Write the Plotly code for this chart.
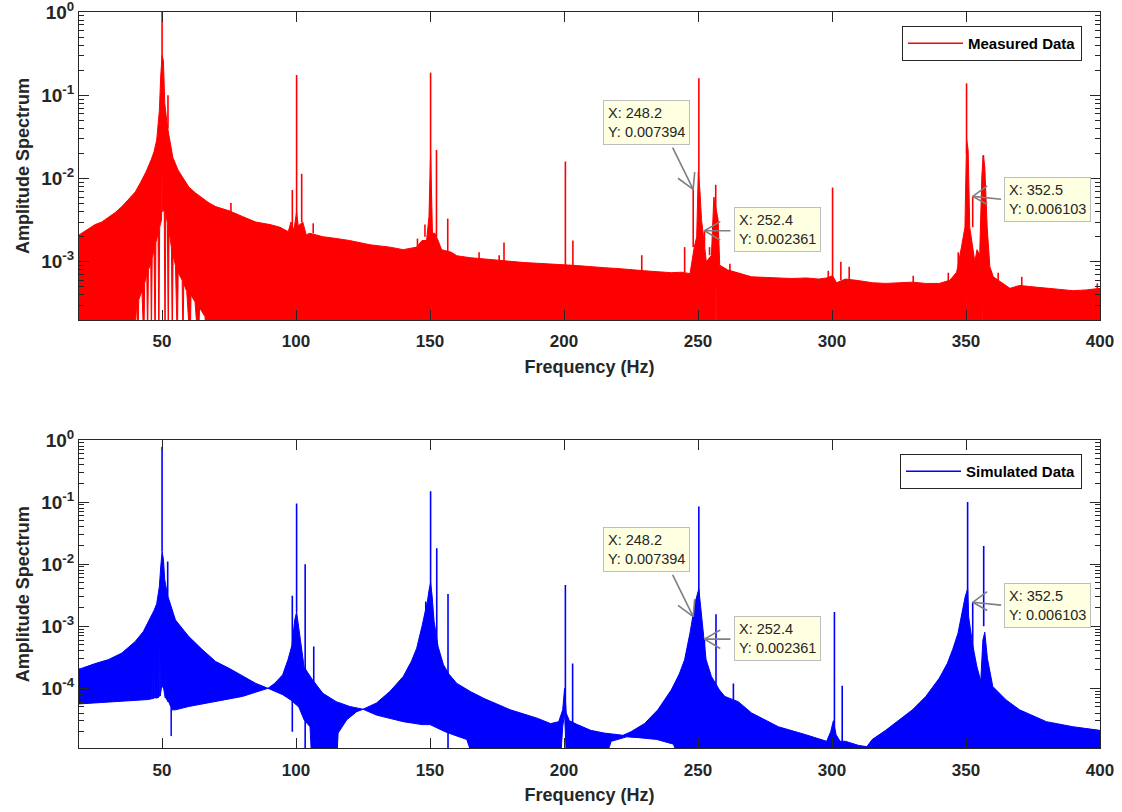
import numpy as np
import plotly.graph_objects as go

# ---------------- data ----------------
# Measured spectrum: upper edge of the dense trace (Hz, amplitude)
meas_env_f = [19, 20, 22.5, 25, 27.5, 30, 32.5, 35, 37.5, 40, 42, 44, 46, 47, 48, 49, 49.5, 50, 50.5, 51,
              52, 53, 54, 56, 58, 60, 62.5, 65, 67.5, 70, 75, 80, 85, 90.3, 94, 97.1, 98.1, 99.2, 100.2,
              100.8, 102.5, 103.8, 105, 107.6, 110, 115.2, 120, 127.6, 135, 140, 145, 147, 148.7, 149.6,
              150.2, 150.9, 151.8, 153, 154.3, 158, 160, 165, 170, 175, 180, 185, 190, 195, 200, 205, 210,
              215, 220, 225, 230, 235, 240, 244, 247, 248.6, 249.5, 250.1, 250.7, 251.3, 253.1, 255,
              255.9, 257.5, 258.1, 261, 264.3, 270, 275, 280, 285, 290.5, 295, 298, 300.2, 301.7, 305,
              309, 315.2, 320, 325, 330, 335, 340, 344, 346.5, 348.3, 349.6, 350.2, 350.8, 351.4,
              353.3, 354.1, 355.1, 355.9, 356.4, 357, 357.9, 358.9, 360.2, 366.4, 370, 375, 380, 385,
              390, 395, 400]
meas_env_a = [2.1e-3, 2.2e-3, 2.5e-3, 2.8e-3, 3.0e-3, 3.4e-3, 3.9e-3, 4.6e-3, 5.6e-3, 6.9e-3, 9.0e-3,
              1.2e-2, 1.7e-2, 2.1e-2, 2.9e-2, 6.6e-2, 0.17, 0.3, 0.26, 0.08, 0.042, 0.027, 0.018, 0.0126,
              0.010, 0.0079, 0.0067, 0.0058, 0.0051, 0.0046, 0.0041, 0.0035, 0.0030, 0.0028, 0.0026,
              0.0023, 0.0030, 0.0024, 0.0040, 0.0027, 0.0030, 0.0021, 0.0022, 0.0021, 0.0020, 0.0019,
              0.0018, 0.0016, 0.0015, 0.0014, 0.0015, 0.0018, 0.0018, 0.0035, 0.02, 0.0022, 0.0022,
              0.0018, 0.0014, 0.0013, 0.00118, 0.00112, 0.00108, 0.00105, 0.00100, 0.00098, 0.00096,
              0.00093, 0.00092, 0.00090, 0.00087, 0.00085, 0.00083, 0.00080, 0.00078, 0.00076, 0.00074,
              0.00075, 0.00072, 0.0015, 0.0020, 0.012, 0.0072, 0.0032, 0.0010, 0.0012, 0.0060, 0.0032,
              0.00091, 0.00080, 0.00074, 0.00066, 0.00065, 0.00064, 0.00063, 0.00064, 0.00062, 0.00064,
              0.00068, 0.00056, 0.00062, 0.00060, 0.00056, 0.00055, 0.00056, 0.00057, 0.00055, 0.00055,
              0.00060, 0.00075, 0.0015, 0.0026, 0.03, 0.022, 0.0026, 0.0010, 0.0014, 0.0012, 0.0105, 0.019,
              0.014, 0.0026, 0.00087, 0.00066, 0.00048, 0.00052, 0.00050, 0.00048, 0.00047, 0.00045,
              0.00046, 0.00048]
# Measured spectrum: lower edge of the dense trace (white wedge round 50 Hz, thin gaps)
meas_low_f = [19, 39.5, 40.6, 41.0, 41.3, 42.5, 43.2, 43.5, 44.3, 44.6, 44.9, 45.8, 46.0, 46.3, 47.0,
              47.4, 47.7, 48.5, 48.8, 49.1, 49.8, 50.0, 50.2, 50.8, 51.1, 51.4, 52.0, 52.3, 52.6, 53.5,
              53.8, 54.1, 55.0, 55.7, 56.0, 57.5, 57.8, 58.1, 59.2, 60.5, 60.8, 62.3, 63.5, 64.0, 66.0,
              67.0, 150.4, 150.6, 150.8, 256.5, 256.7, 256.9, 350.1, 350.3, 350.5, 356.0, 356.2, 356.4, 400]
meas_low_a = [1e-4, 1e-4, 3.2e-4, 1e-4, 3.5e-4, 4.5e-4, 1e-4, 5.5e-4, 7.3e-4, 1e-4, 8e-4, 9.5e-4, 1e-4,
              1.1e-3, 1.4e-3, 1e-4, 1.7e-3, 2.2e-3, 1e-4, 2.6e-3, 3.2e-3, 1.35e-2, 4.0e-3, 4.2e-3, 1e-4,
              3.8e-3, 2.9e-3, 1e-4, 2.3e-3, 1.5e-3, 1e-4, 1.2e-3, 9e-4, 1e-4, 7.5e-4, 6e-4, 1e-4, 5.5e-4,
              4.4e-4, 1e-4, 4e-4, 3.3e-4, 1e-4, 2.8e-4, 2.2e-4, 1e-4, 1e-4, 5.5e-4, 1e-4, 1e-4, 6e-4,
              1e-4, 1e-4, 5.2e-4, 1e-4, 1e-4, 6.8e-4, 1e-4, 1e-4]
# Measured spectrum: narrow spectral lines (Hz, foot, top)
meas_spike_f = [50.0, 52.2, 75.7, 98.6, 100.2, 102.1, 106.4, 145.3, 148.1, 150.2, 152.4, 156.6, 168.3,
                175.8, 177.6, 200.5, 203.3, 229.0, 245.0, 248.2, 250.3, 252.4, 254.3, 256.6, 261.9,
                298.6, 300.2, 303.3, 306.4, 330.3, 343.4, 347.1, 350.2, 352.5, 356.5, 362.0, 370.8, 399.0]
meas_spike_lo = [0.2, 0.04, 0.004, 0.0025, 0.003, 0.003, 0.0022, 0.0014, 0.002, 0.004, 0.002, 0.0013,
                 0.0011, 0.001, 0.001, 0.0009, 0.0009, 0.00078, 0.00075, 0.0015, 0.004, 0.0015, 0.0012,
                 0.003, 0.00075, 0.00062, 0.00065, 0.0006, 0.0006, 0.00056, 0.00056, 0.0009, 0.02,
                 0.0026, 0.01, 0.0006, 0.0005, 0.00048]
meas_spike_hi = [1.05, 0.10, 0.0051, 0.0073, 0.175, 0.0114, 0.0029, 0.0019, 0.0028, 0.187, 0.022, 0.0033,
                 0.0013, 0.0012, 0.0017, 0.016, 0.0018, 0.0012, 0.0015, 0.007394, 0.16, 0.002361, 0.0015,
                 0.0084, 0.00095, 0.00078, 0.0078, 0.0010, 0.00087, 0.00068, 0.00074, 0.0013, 0.139,
                 0.006103, 0.019, 0.00074, 0.00066, 0.00055]

# Simulated spectrum: upper edge
sim_env_f = [19, 20, 25, 30, 35, 40, 43, 45, 47, 48, 49, 49.5, 50.0, 50.5, 51, 52, 53, 55, 58, 60, 65,
             70, 75, 80, 85, 89.5, 92, 95, 97, 98.5, 99.5, 100.2, 100.8, 101.5, 103, 106, 110, 115, 120,
             125, 130, 135, 140, 143, 145, 147, 149, 149.7, 150.2, 150.8, 151.5, 153, 155, 157, 160, 165,
             170, 180, 190, 195, 198, 199.5, 200.2, 200.8, 202, 205, 210, 215, 222, 225, 230, 235, 240,
             243, 245, 247, 249, 250.3, 251, 252, 253, 255, 258, 260, 265, 270, 280, 290, 298, 299.5,
             300.5, 301.5, 303, 305, 310, 313, 315, 320, 325, 330, 335, 340, 343, 345, 347, 348.5, 349.7,
             350.6, 351, 352.5, 354, 355.5, 356.3, 357, 358, 360, 365, 370, 380, 390, 400]
sim_env_a = [2.05e-4, 2.1e-4, 2.5e-4, 2.9e-4, 3.7e-4, 5.7e-4, 8.2e-4, 1.2e-3, 1.8e-3, 2.3e-3, 4.4e-3,
             9e-3, 0.016, 0.012, 5.6e-3, 3.2e-3, 2.3e-3, 1.26e-3, 8.7e-4, 6.8e-4, 4.2e-4, 2.7e-4, 2.1e-4,
             1.6e-4, 1.2e-4, 1.0e-4, 1.2e-4, 1.65e-4, 2.9e-4, 5e-4, 1.26e-3, 1.7e-3, 1.1e-3, 6e-4,
             2.2e-4, 1.4e-4, 8.3e-5, 6.1e-5, 5.1e-5, 4.6e-5, 5.8e-5, 8.9e-5, 1.55e-4, 2.7e-4, 4.4e-4,
             1.0e-3, 2.5e-3, 4e-3, 5e-3, 3e-3, 1.2e-3, 4.7e-4, 2.4e-4, 1.7e-4, 1.2e-4, 8.9e-5, 6.9e-5,
             4.5e-5, 3.3e-5, 2.7e-5, 2.9e-5, 4.5e-5, 1.0e-4, 4e-5, 3e-5, 2.6e-5, 2.1e-5, 1.9e-5, 1.75e-5,
             2e-5, 2.7e-5, 4.5e-5, 9.4e-5, 1.7e-4, 2.9e-4, 7.8e-4, 2.5e-3, 4e-3, 2e-3, 8e-4, 2.9e-4,
             1.55e-4, 9.4e-5, 7.4e-5, 6.1e-5, 4e-5, 2.4e-5, 1.8e-5, 1.4e-5, 2.0e-5, 3e-5, 1.8e-5, 1.4e-5,
             1.4e-5, 1.2e-5, 1.15e-5, 1.5e-5, 2.1e-5, 3.1e-5, 4.5e-5, 7.4e-5, 1.45e-4, 2.5e-4, 4.2e-4,
             7.7e-4, 1.6e-3, 3e-3, 4e-3, 1.4e-3, 5e-4, 2.3e-4, 1.3e-4, 6e-4, 8e-4, 3e-4, 1.07e-4, 6.5e-5,
             4.5e-5, 2.9e-5, 2.4e-5, 2.1e-5]
# Simulated spectrum: lower edge
sim_low_f = [19, 20, 30, 40, 45, 46.2, 46.3, 46.4, 47.2, 47.3, 47.4, 48.2, 48.3, 48.4, 49.1, 49.2, 49.3,
             49.8, 50.5, 51.2, 51.3, 51.4, 52.3, 52.4, 52.5, 53.3, 53.4, 53.5, 55, 60, 70, 80, 89.5, 92,
             95, 98, 101, 103, 105.2, 106, 115, 115.7, 118.9, 122.6, 125, 130, 140, 147, 150, 155.6, 160,
             163.7, 167.4, 198.5, 199.5, 200.2, 201, 214, 217.6, 223.4, 228, 234.6, 240.8, 244.5, 400]
sim_low_a = [5.6e-5, 5.7e-5, 5.9e-5, 6.4e-5, 6.6e-5, 6.8e-5, 2.0e-4, 6.8e-5, 7e-5, 2.6e-4, 7e-5, 7e-5,
             4e-4, 7e-5, 7.5e-5, 6e-4, 7.5e-5, 1.05e-4, 1.05e-4, 7e-5, 5e-4, 7e-5, 6e-5, 2.5e-4, 6e-5,
             5e-5, 1.7e-5, 4.5e-5, 4.5e-5, 5.1e-5, 6.1e-5, 7.4e-5, 1.0e-4, 8.9e-5, 7.9e-5, 6.5e-5, 5e-5,
             3.1e-5, 2.4e-5, 5e-6, 5e-6, 1.9e-5, 3.1e-5, 4.2e-5, 4.6e-5, 3.7e-5, 2.9e-5, 2.6e-5, 2.6e-5,
             2e-5, 1.7e-5, 1.5e-5, 5e-6, 5e-6, 2.4e-5, 4e-5, 5e-6, 5e-6, 1.4e-5, 1.65e-5, 1.6e-5, 1.5e-5,
             1.26e-5, 5e-6, 5e-6]
# Simulated spectrum: narrow spectral lines (Hz, foot, top)
sim_spike_f = [50.0, 52.1, 98.6, 100.2, 103.4, 106.6, 148.4, 150.2, 152.5, 156.7, 200.5, 203.2, 248.2,
               250.3, 252.4, 256.7, 263.2, 300.9, 303.8, 350.6, 352.5, 356.6]
sim_spike_lo = [0.016, 0.003, 2e-5, 1.7e-3, 5e-6, 5e-6, 6e-5, 3e-3, 3e-5, 5e-6, 4e-5, 2.5e-5, 5e-6,
                3e-3, 5e-6, 1e-4, 5e-5, 1.4e-5, 1.3e-5, 2e-3, 3e-4, 1e-3]
sim_spike_hi = [0.78, 0.011, 3.1e-3, 0.095, 0.01, 4.7e-4, 2.5e-3, 0.15, 0.018, 3.3e-3, 4.6e-3, 2.5e-4,
                1.43e-3, 0.085, 6.2e-4, 1.56e-3, 1.2e-4, 1.7e-3, 1.1e-4, 0.1, 2.43e-3, 0.0196]

# Data tips
tip_f = [248.2, 252.4, 352.5]
tip_meas_y = [0.007394, 0.002361, 0.006103]
tip_sim_y = [1.43e-3, 6.2e-4, 2.43e-3]
tip_text = ["X: 248.2<br>Y: 0.007394", "X: 252.4<br>Y: 0.002361", "X: 352.5<br>Y: 0.006103"]

x_ticks = [50, 100, 150, 200, 250, 300, 350, 400]

# ---------------- figure ----------------
W, H = 1122, 812
FONT = "Liberation Sans, Arial, Helvetica, sans-serif"
AX = "#262626"
RED, BLUE = "#FF0000", "#0000FF"

fig = go.Figure()


def add_panel(env_f, env_a, low_f, low_a, sp_f, sp_lo, sp_hi, color, name, xa, ya, leg):
    px = list(env_f) + list(low_f)[::-1]
    py = list(env_a) + list(low_a)[::-1]
    fig.add_trace(go.Scatter(x=px, y=py, mode="lines", fill="toself", fillcolor=color,
                             line=dict(color=color, width=1), showlegend=False,
                             hoverinfo="skip", xaxis=xa, yaxis=ya))
    sx, sy = [], []
    for f, lo, hi in zip(sp_f, sp_lo, sp_hi):
        sx += [f, f, None]
        sy += [lo, hi, None]
    fig.add_trace(go.Scatter(x=sx, y=sy, mode="lines", line=dict(color=color, width=1.6),
                             name=name, legend=leg, xaxis=xa, yaxis=ya))


add_panel(meas_env_f, meas_env_a, meas_low_f, meas_low_a, meas_spike_f, meas_spike_lo, meas_spike_hi,
          RED, "Measured Data", "x", "y", "legend")
add_panel(sim_env_f, sim_env_a, sim_low_f, sim_low_a, sim_spike_f, sim_spike_lo, sim_spike_hi,
          BLUE, "Simulated Data", "x2", "y2", "legend2")

xdom = [79 / W, 1100 / W]
top_dom = [1 - 320 / H, 1 - 12 / H]
bot_dom = [1 - 748.3 / H, 1 - 440 / H]


def minor_vals(lo_exp, hi_exp):
    return [k * 10.0 ** e for e in range(lo_exp, hi_exp) for k in range(2, 10)]


xcommon = dict(range=[19, 400], tickmode="array", tickvals=x_ticks, ticks="inside", ticklen=10,
               tickwidth=1, tickcolor=AX, showline=True, linecolor=AX, linewidth=1, mirror="ticks",
               showgrid=False, zeroline=False, automargin=False,
               tickfont=dict(family=FONT, size=17, color=AX, weight="bold"),
               title=dict(text="Frequency (Hz)", font=dict(family=FONT, size=18, color=AX, weight="bold"),
                          standoff=9),
               ticklabelstandoff=6)

ycommon = dict(type="log", ticks="inside", ticklen=10, tickwidth=1, tickcolor=AX, showline=True,
               linecolor=AX, linewidth=1, mirror="ticks", showgrid=False, zeroline=False, automargin=False,
               ticklabeloverflow="allow",
               tickfont=dict(family=FONT, size=19, color=AX, weight="bold"),
               title=dict(text="Amplitude Spectrum", font=dict(family=FONT, size=18, color=AX, weight="bold"),
                          standoff=6))

fig.update_layout(
    width=W, height=H, margin=dict(l=0, r=0, t=0, b=0, autoexpand=False),
    paper_bgcolor="white", plot_bgcolor="white",
    xaxis=dict(domain=xdom, anchor="y", **xcommon),
    yaxis=dict(domain=top_dom, anchor="x", range=[np.log10(2e-4), 0],
               tickmode="array", tickvals=[1e-3, 1e-2, 1e-1, 1],
               ticktext=["10<sup>-3</sup>", "10<sup>-2</sup>", "10<sup>-1</sup>", "10<sup>0</sup>"],
               minor=dict(tickmode="array", tickvals=minor_vals(-4, 0), ticks="inside", ticklen=5,
                          tickcolor=AX, showgrid=False),
               **ycommon),
    xaxis2=dict(domain=xdom, anchor="y2", **xcommon),
    yaxis2=dict(domain=bot_dom, anchor="x2", range=[np.log10(1.08e-5), 0],
                tickmode="array", tickvals=[1e-4, 1e-3, 1e-2, 1e-1, 1],
                ticktext=["10<sup>-4</sup>", "10<sup>-3</sup>", "10<sup>-2</sup>", "10<sup>-1</sup>",
                          "10<sup>0</sup>"],
                minor=dict(tickmode="array", tickvals=minor_vals(-5, 0), ticks="inside", ticklen=5,
                           tickcolor=AX, showgrid=False),
                **ycommon),
    legend=dict(x=1082 / W, xanchor="right", y=1 - 26 / H, yanchor="top", bgcolor="white",
                bordercolor=AX, borderwidth=1, itemwidth=55,
                font=dict(family=FONT, size=15, color="black", weight="bold")),
    legend2=dict(x=1082 / W, xanchor="right", y=1 - 454 / H, yanchor="top", bgcolor="white",
                 bordercolor=AX, borderwidth=1, itemwidth=55,
                 font=dict(family=FONT, size=15, color="black", weight="bold")),
)

# data-tip call-outs: (box centre offset, shaft tail offset, two arrow-head arms) in pixels
tip_geom = [
    dict(box=(-46.4, -66.6), tail=(-21.3, -43.3), arms=[(-16.7, -12.3), (1.6, -19.0)]),
    dict(box=(73.2, -1.1), tail=(27.5, 0.0), arms=[(17.3, -10.0), (17.3, 10.3)]),
    dict(box=(74.7, 3.2), tail=(29.9, 3.0), arms=[(16.0, -11.7), (16.0, 9.0)]),
]

GRAY = "#7F7F7F"
for xr, yr, ys in [("x", "y", tip_meas_y), ("x2", "y2", tip_sim_y)]:
    for f, yv, txt, g in zip(tip_f, ys, tip_text, tip_geom):
        ly = float(np.log10(yv))
        for (dx, dy) in [g["tail"]] + g["arms"]:
            fig.add_annotation(x=f, y=ly, xref=xr, yref=yr, text="", showarrow=True, arrowhead=0,
                               arrowwidth=1.6, arrowcolor=GRAY, ax=dx, ay=dy, standoff=0)
        fig.add_annotation(x=f, y=ly, xref=xr, yref=yr, text=txt, showarrow=False, align="left",
                           xshift=g["box"][0], yshift=-g["box"][1], xanchor="center", yanchor="middle",
                           bgcolor="#FFFFE1", bordercolor="#BEBEBE", borderwidth=1, borderpad=4,
                           font=dict(family=FONT, size=14.5, color="#262626"))

fig.write_html("out.html")
